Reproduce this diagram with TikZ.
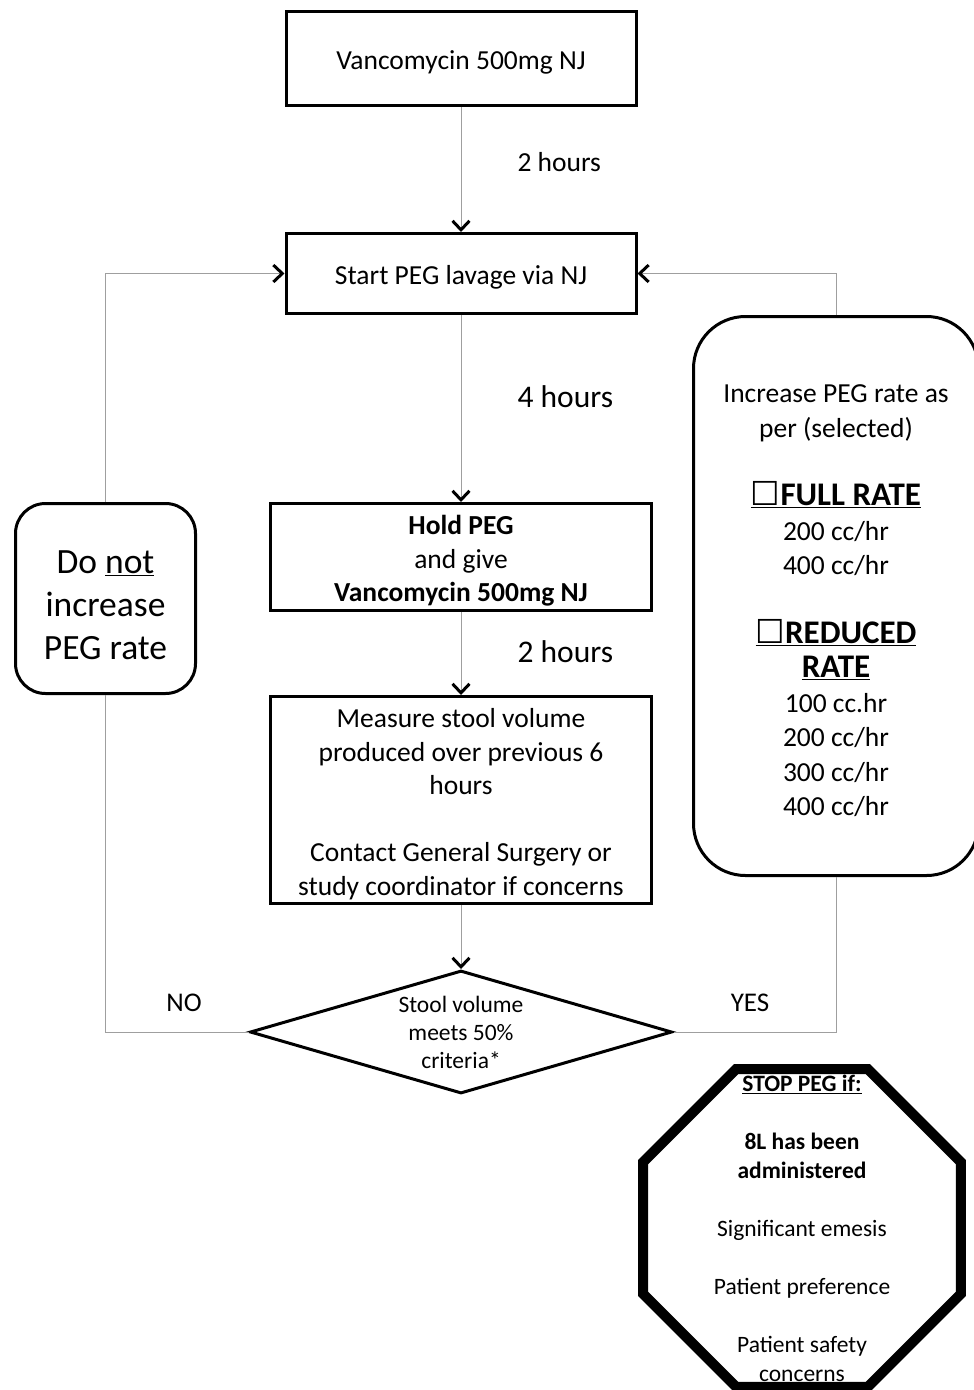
\documentclass[tikz,border=0pt]{standalone}
\usepackage{fontspec}
\setmainfont{Carlito}
\newfontfamily\symfont{DejaVu Sans}
\usetikzlibrary{arrows.meta,shapes.geometric}

\newcommand{\chk}{{\symfont\fontsize{33}{33}\selectfont ☐}}
\newcommand{\ratehead}[1]{{\fontsize{33}{38}\selectfont\bfseries\underline{#1}}}
\newcommand{\topgap}{\rule{0pt}{1em}}

\tikzset{
  stepbox/.style={draw, rectangle, line width=3pt, align=center, inner sep=0pt,
    font=\fontsize{27.5}{33.5}\selectfont},
  roundbox/.style={stepbox, rounded corners=30pt},
  choice/.style={draw, diamond, line width=3pt, align=center, inner sep=0pt, aspect=3.37,
    minimum width=422pt, minimum height=123pt, font=\fontsize{23.5}{28}\selectfont},
  stopsign/.style={draw, regular polygon, regular polygon sides=8, line width=10pt,
    inner sep=0pt, minimum size=344pt},
  flow/.style={draw=gray!75, line width=1pt,
    -{Straight Barb[color=black, length=9pt, width=17pt, line width=3pt]}},
  loopline/.style={draw=gray!75, line width=1pt},
  timelabel/.style={anchor=west, font=\fontsize{27.5}{33.5}\selectfont},
}

\begin{document}
\begin{tikzpicture}[x=1pt, y=-1pt]
    \useasboundingbox (0,0) rectangle (974,1390);

    % main column
    \node[stepbox, minimum width=350pt, minimum height=94pt] (vanco) at (461,58.5) {\topgap Vancomycin 500mg NJ};
    \node[stepbox, minimum width=350pt, minimum height=80pt] (lavage) at (461,273.5) {\topgap Start PEG lavage via NJ};
    \node[stepbox, minimum width=381pt, minimum height=107pt] (hold) at (461,557) {\topgap\textbf{Hold PEG}\\and give\\\textbf{Vancomycin 500mg NJ}};
    \node[stepbox, minimum width=381pt, minimum height=207pt] (measure) at (461,800) {\topgap Measure stool volume\\produced over previous 6\\hours\\[33.5pt]Contact General Surgery or\\study coordinator if concerns};
    \node[choice] (meets) at (461,1032) {Stool volume\\meets 50\%\\criteria*};

    % time labels
    \node[timelabel] (wait1) at (514,162) {2 hours};
    \node[timelabel, font=\fontsize{31.5}{38}\selectfont] (wait2) at (514,397) {4 hours};
    \node[timelabel, font=\fontsize{31.5}{38}\selectfont] (wait3) at (514,652) {2 hours};

    % side boxes
    \node[roundbox, minimum width=180pt, minimum height=190pt, font=\fontsize{35.5}{43}\selectfont] (nochange) at (105.5,598.5) {\topgap Do \underline{not}\\increase\\PEG rate};
    \node[roundbox, rounded corners=52pt, minimum width=285pt, minimum height=559pt,
      font=\fontsize{27.5}{34.5}\selectfont] (increase) at (836,596) {\topgap Increase PEG rate as\\per (selected)\\[34pt]\ratehead{\chk FULL RATE}\\200 cc/hr\\400 cc/hr\\[34pt]\ratehead{\chk REDUCED}\\\ratehead{RATE}\\100 cc.hr\\200 cc/hr\\300 cc/hr\\400 cc/hr};

    % branch labels
    \node[font=\fontsize{27}{33}\selectfont] (no) at (184,1003) {NO};
    \node[font=\fontsize{27}{33}\selectfont] (yes) at (750,1003) {YES};

    % stop sign
    \node[stopsign] (stop) at (802,1228) {};
    \node[align=center, font=\fontsize{23.5}{29}\selectfont] (stoptext) at (stop.center) {\underline{\textbf{STOP PEG if:}}\\[29pt]\textbf{8L has been}\\\textbf{administered}\\[29pt]Significant emesis\\[29pt]Patient preference\\[29pt]Patient safety\\concerns};

    % connectors
    \draw[flow] (vanco) -- (lavage);
    \draw[flow] (lavage) -- (hold);
    \draw[flow] (hold) -- (measure);
    \draw[flow] (measure) -- (meets);
    \draw[loopline] (meets.west) -| (nochange.south);
    \draw[flow] (nochange.north) |- (lavage.west);
    \draw[loopline] (meets.east) -| (increase.south);
    \draw[flow] (increase.north) |- (lavage.east);
\end{tikzpicture}
\end{document}
